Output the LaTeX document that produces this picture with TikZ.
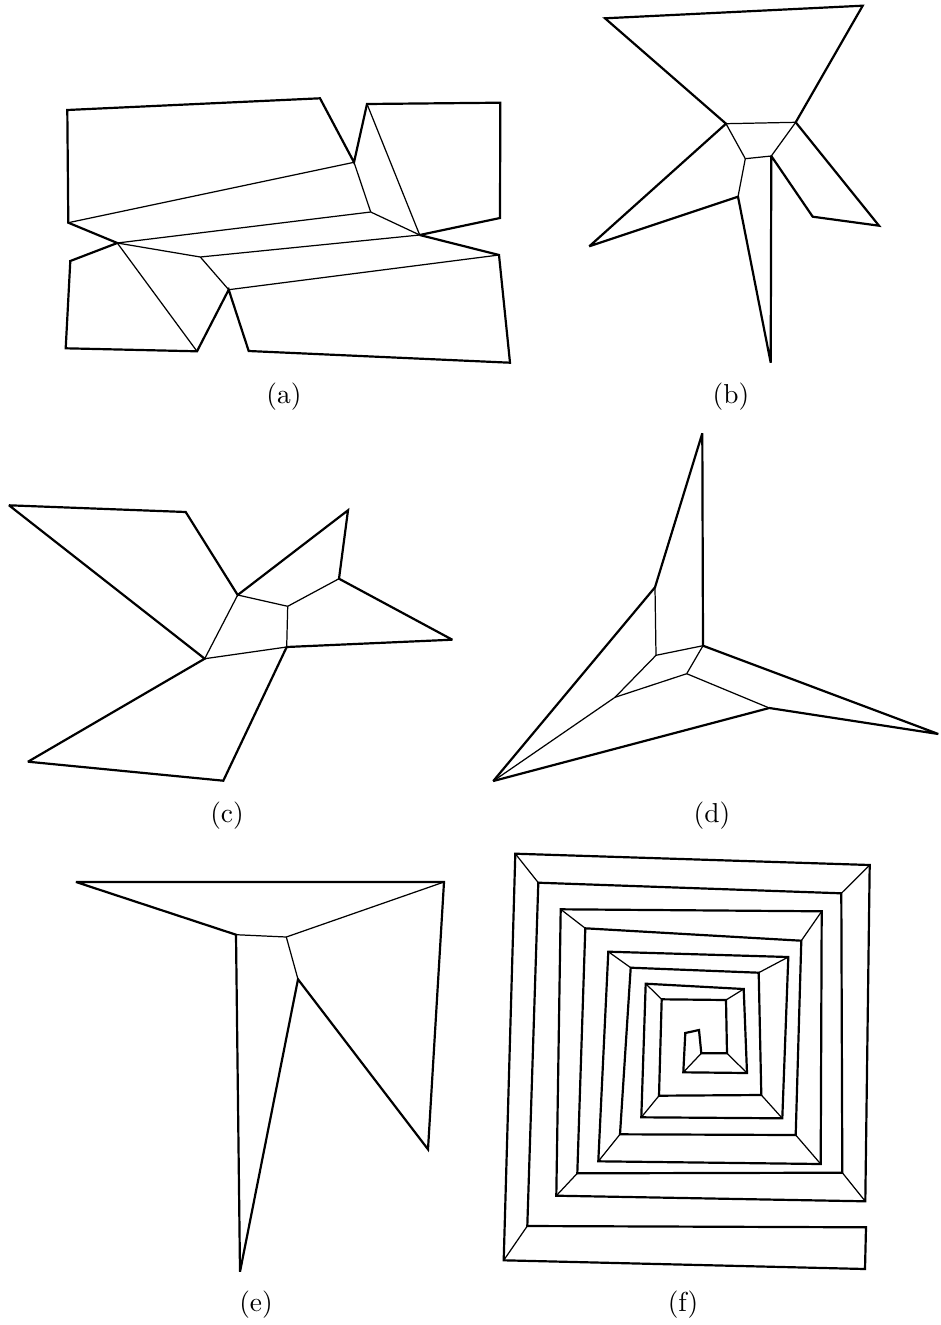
\documentclass[tikz,border=0pt]{standalone}
\usepackage{tikz}
\begin{document}
\begin{tikzpicture}[x=0.02cm, y=-0.02cm,
  poly/.style={draw, line width=1.25pt, line join=miter, miter limit=3},
  skel/.style={draw, line width=0.7pt},
  caplabel/.style={inner sep=0pt, scale=1.56}
]
\useasboundingbox (0,0) rectangle (940,1325);
% panel a
\foreach \xa/\ya/\xb/\yb in {68.3/222.7/354/162.3, 354/162.3/370.7/212, 367/104/419.7/235, 370.7/212/419.7/235,
  117.3/243/370.7/212, 117.3/243/200.3/257, 200.3/257/419.7/235, 200.3/257/228.7/289.7,
  228.7/289.7/499/255, 117.3/243/197/351.3}
  \draw[skel] (\xa,\ya) -- (\xb,\yb);
\draw[poly] (67.3,110) -- (320,98.3) -- (354,162.3) -- (367,104) -- (500.3,102.7) -- (500,218) -- (419.7,235)
  -- (499,255) -- (510,362.7) -- (248.7,351) -- (228.7,289.7) -- (197,351.3) -- (65.7,348.3) -- (70.3,261)
  -- (117.3,243) -- (68.3,222.7) -- cycle;
\node[caplabel] (capa) at (284,397) {(a)};
% panel b
\foreach \xa/\ya/\xb/\yb in {726/123.7/795.7/122.3, 726/123.7/745.3/158.7, 745.3/158.7/771.3/156,
  771.3/156/795.7/122.3, 745.3/158.7/738/196.7}
  \draw[skel] (\xa,\ya) -- (\xb,\yb);
\draw[poly] (605,18.3) -- (862.7,5.7) -- (795.7,122.3) -- (879,225.7) -- (812.7,216.7) -- (771.3,156)
  -- (770.7,362.7) -- (738,196.7) -- (589.3,246.3) -- (726,123.7) -- cycle;
\node[caplabel] (capb) at (731,397) {(b)};
% panel c
\foreach \xa/\ya/\xb/\yb in {237.7/595/204.7/658.7, 237.7/595/287.7/606.3, 287.7/606.3/339/578.7,
  287.7/606.3/286.7/647, 204.7/658.7/286.7/647}
  \draw[skel] (\xa,\ya) -- (\xb,\yb);
\draw[poly] (9,505.3) -- (185.7,512) -- (237.7,595) -- (348,510.3) -- (339,578.7) -- (452.3,639.7)
  -- (286.7,647) -- (223.3,780.7) -- (28,761.7) -- (204.7,658.7) -- cycle;
\node[caplabel] (capc) at (227,816) {(c)};
% panel d
\foreach \xa/\ya/\xb/\yb in {655/587.3/656/655.3, 656/655.3/703/645.7, 656/655.3/615/697.3, 615/697.3/493.3/781,
  615/697.3/686.7/673.7, 686.7/673.7/703/645.7, 686.7/673.7/769.3/708}
  \draw[skel] (\xa,\ya) -- (\xb,\yb);
\draw[poly] (702.3,433.3) -- (703,645.7) -- (938.3,734) -- (769.3,708) -- (493.3,781) -- (655,587.3) -- cycle;
\node[caplabel] (capd) at (712,816) {(d)};
% panel e
\foreach \xa/\ya/\xb/\yb in {236/934.7/286.3/937, 286.3/937/444/882, 286.3/937/298/979.3}
  \draw[skel] (\xa,\ya) -- (\xb,\yb);
\draw[poly] (76,882) -- (444,882) -- (428,1149.3) -- (298,979.3) -- (240,1271.7) -- (236,934.7) -- cycle;
\node[caplabel] (cape) at (256,1305) {(e)};
% panel f, corner segments of the spiral
\foreach \xa/\ya/\xb/\yb in {515.3/853.7/538.3/882.7, 869.7/865/841.3/893.3, 865.3/1201.3/842.3/1172.7,
  556.3/1195.7/577.3/1173.3, 560.7/909.3/585.3/928.3, 821.7/911.3/801.3/940.7, 820.7/1164/795.7/1135,
  598.3/1161.3/620/1134.3, 608.3/951.7/630.7/967.7, 788.3/957/758.7/972.7, 782.3/1118.3/761.3/1095,
  641.3/1117.3/659/1095.7, 645.7/983.7/661.7/999.3, 743.7/989/726/1000, 747/1073/727/1053.3,
  683.3/1072.3/701.3/1053.3, 503.7/1260.3/527.3/1226}
  \draw[skel] (\xa,\ya) -- (\xb,\yb);
\draw[poly] (866,1227.3) -- (527.3,1226) -- (538.3,882.7) -- (841.3,893.3) -- (842.3,1172.7) -- (577.3,1173.3)
  -- (585.3,928.3) -- (801.3,940.7) -- (795.7,1135) -- (620,1134.3) -- (630.7,967.7) -- (758.7,972.7)
  -- (761.3,1095) -- (659,1095.7) -- (661.7,999.3) -- (726,1000) -- (727,1053.3) -- (701.3,1053.3)
  -- (699,1030) -- (685.3,1033) -- (683.3,1072.3) -- (747,1073) -- (743.7,989) -- (645.7,983.7)
  -- (641.3,1117.3) -- (782.3,1118.3) -- (788.3,957) -- (608.3,951.7) -- (598.3,1161.3) -- (820.7,1164)
  -- (821.7,911.3) -- (560.7,909.3) -- (556.3,1195.7) -- (865.3,1201.3) -- (869.7,865) -- (515.3,853.7)
  -- (503.7,1260.3) -- (865,1269) -- cycle;
\node[caplabel] (capf) at (683,1305) {(f)};
\end{tikzpicture}
\end{document}
